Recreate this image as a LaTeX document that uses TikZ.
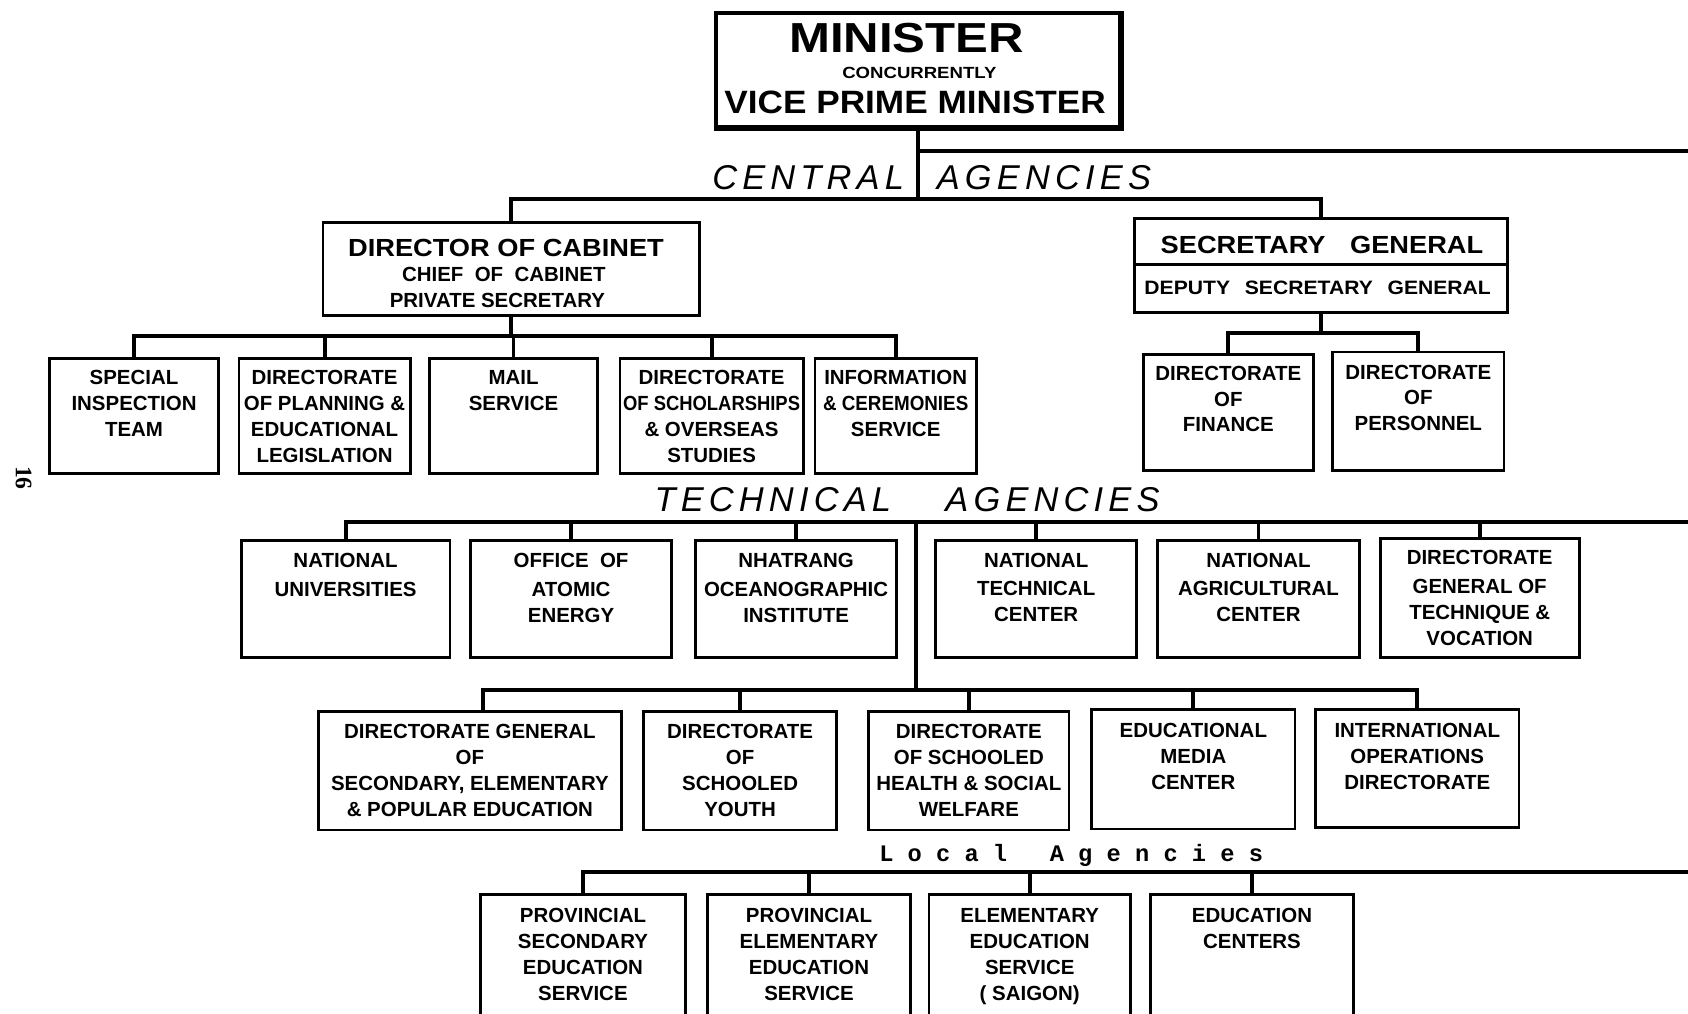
\documentclass[tikz,border=0pt]{standalone}
\usepackage{fontspec}
\usepackage{graphicx}
\setmainfont{Liberation Sans}
\newfontfamily\headfont{Liberation Sans}[LetterSpace=15]
\newfontfamily\locfont{Liberation Mono}
\newfontfamily\pgfont{Liberation Serif}
\newcommand\bx{\fontsize{19}{24}\selectfont\bfseries}
\newcommand\sx[2]{\scalebox{#1}[1]{#2}}
\tikzset{
  box/.style={draw, line width=2.6pt, rectangle, inner sep=0pt},
  lbl/.style={anchor=north, inner sep=0pt, align=center, font=\bx},
  conn/.style={line width=3.6pt, line join=miter},
  head/.style={inner sep=0pt, font=\headfont\itshape\fontsize{32}{32}\selectfont},
  big/.style={inner sep=0pt, font=\bfseries},
}
% name, x1, y1, x2, y2, text offset, text
\newcommand\obox[7]{%
  \node[box, minimum width={#4-#2}, minimum height={#5-#3}] (#1) at ({(#2+#4)/2},{(#3+#5)/2}) {};
  \node[lbl] (#1-t) at ([yshift=-#6pt]#1.north) {#7};}
\begin{document}
\begin{tikzpicture}[x=1pt,y=-1pt]
\useasboundingbox (0,0) rectangle (1568,941);
\clip (0,0) rectangle (1568,941);

% ---------- Minister ----------
\node[box, line width=3pt, minimum width=375, minimum height=106] (min) at (852.5,65) {};
\draw[line width=5pt, line join=miter] (min.north east) -- (min.south east) -- (min.south west);
\node[big, font=\bfseries\fontsize{39}{39}\selectfont] (min-a) at (842,35) {\sx{1.17}{MINISTER}};
\node[big, font=\bfseries\fontsize{15}{15}\selectfont] (min-b) at (854,68) {\sx{1.15}{CONCURRENTLY}};
\node[big, font=\bfseries\fontsize{30}{30}\selectfont] (min-c) at (850,95) {\sx{1.09}{VICE PRIME MINISTER}};

% ---------- Central agencies ----------
\node[head, anchor=east] (cen-a) at (840,165) {CENTRAL};
\node[head, anchor=west] (cen-b) at (870,165) {AGENCIES};

\node[box, minimum width=350, minimum height=86] (dcab) at (475,250) {};
\node[big, font=\bfseries\fontsize{23}{23}\selectfont] (dcab-a) at (470,230) {\sx{1.1}{DIRECTOR OF CABINET}};
\node[big, font=\bx] (dcab-b) at (468,255) {CHIEF\ \ OF\ \ CABINET};
\node[big, font=\bx] (dcab-c) at (462,279) {PRIVATE\ SECRETARY};

\node[box, minimum width=346, minimum height=43] (sg) at (1227,224.5) {};
\node[box, minimum width=346, minimum height=44] (sgd) at (1227,268) {};
\node[big, font=\bfseries\fontsize{23}{23}\selectfont] (sg-a) at (1228,228) {\sx{1.1}{SECRETARY\hspace{0.9em}GENERAL}};
\node[big, font=\bfseries\fontsize{18}{18}\selectfont] (sgd-a) at (1224,267) {\sx{1.09}{DEPUTY\hspace{0.7em}SECRETARY\hspace{0.7em}GENERAL}};

\obox{sit}{46}{333}{203}{440}{12}{SPECIAL\\INSPECTION\\TEAM}
\obox{dpl}{222}{333}{381}{440}{12}{DIRECTORATE\\OF PLANNING \&\\EDUCATIONAL\\LEGISLATION}
\obox{mail}{399}{333}{555}{440}{12}{MAIL\\SERVICE}
\obox{dsch}{576}{333}{746}{440}{12}{DIRECTORATE\\\sx{0.9}{OF SCHOLARSHIPS}\\\& OVERSEAS\\STUDIES}
\obox{info}{757}{333}{907}{440}{12}{INFORMATION\\\sx{0.92}{\& CEREMONIES}\\SERVICE}

\obox{fin}{1062}{329}{1220}{437}{12}{DIRECTORATE\\OF\\FINANCE}
\obox{pers}{1238}{327}{1397}{437}{13}{DIRECTORATE\\OF\\PERSONNEL}

% ---------- Technical agencies ----------
\node[head, anchor=east] (tec-a) at (828,464) {TECHNICAL};
\node[head, anchor=west] (tec-b) at (878,464) {AGENCIES};

\obox{nu}{224}{502}{418}{611}{13}{NATIONAL\\[3pt]UNIVERSITIES}
\obox{oae}{437}{502}{624}{611}{13}{OFFICE\ \ OF\\[3pt]ATOMIC\\ENERGY}
\obox{noi}{646}{502}{833}{611}{13}{NHATRANG\\[3pt]OCEANOGRAPHIC\\INSTITUTE}
\obox{ntc}{869}{502}{1056}{611}{13}{NATIONAL\\[2pt]TECHNICAL\\CENTER}
\obox{nac}{1075}{502}{1263}{611}{13}{NATIONAL\\[2pt]AGRICULTURAL\\CENTER}
\obox{dgt}{1282}{500}{1467}{611}{12}{DIRECTORATE\\[3pt]GENERAL OF\\TECHNIQUE \&\\VOCATION}

\obox{dgs}{296}{661}{577}{771}{13}{DIRECTORATE GENERAL\\OF\\SECONDARY, ELEMENTARY\\\& POPULAR EDUCATION}
\obox{dsy}{598}{661}{777}{771}{13}{DIRECTORATE\\OF\\SCHOOLED\\YOUTH}
\obox{dsh}{807}{661}{993}{771}{13}{DIRECTORATE\\OF SCHOOLED\\HEALTH \& SOCIAL\\WELFARE}
\obox{emc}{1014}{659}{1203}{770}{14}{EDUCATIONAL\\MEDIA\\CENTER}
\obox{iod}{1222}{659}{1411}{769}{14}{INTERNATIONAL\\OPERATIONS\\DIRECTORATE}

% ---------- Local agencies ----------
\node[inner sep=0pt, font=\locfont\bfseries\fontsize{22}{22}\selectfont] (loc) at (995,795) {L~o~c~a~l~~~A~g~e~n~c~i~e~s};

\obox{pse}{446}{831}{637}{965}{14}{PROVINCIAL\\SECONDARY\\EDUCATION\\SERVICE}
\obox{pee}{657}{831}{846}{965}{14}{PROVINCIAL\\ELEMENTARY\\EDUCATION\\SERVICE}
\obox{ees}{863}{831}{1050}{965}{14}{ELEMENTARY\\EDUCATION\\SERVICE\\( SAIGON)}
\obox{ec}{1069}{831}{1257}{965}{14}{EDUCATION\\CENTERS}

% ---------- page number ----------
\node[inner sep=0pt, rotate=-90, font=\pgfont\bfseries\fontsize{22}{22}\selectfont] (pg) at (22,444) {16};

% ---------- connectors ----------
\coordinate (c1) at (851,185);
\coordinate (r1) at (1568,140);
\draw[conn] (min.south) -- (min.south |- c1);
\draw[conn] (min.south |- r1) -- (r1);
\draw[conn] (dcab.north) |- (c1) -| (sg.north);

\coordinate (c2) at (477,312);
\draw[conn] (dcab.south) -- (dcab.south |- c2);
\draw[conn] (sit.north) |- (c2) -| (info.north);
\foreach \n in {dpl,mail,dsch} \draw[conn] (\n.north) -- (\n.north |- c2);

\coordinate (c3) at (1229,309);
\draw[conn] (sgd.south) -- (sgd.south |- c3);
\draw[conn] (fin.north) |- (c3) -| (pers.north);

\coordinate (r2) at (1568,485);
\draw[conn] (nu.north) |- (r2);
\foreach \n in {oae,noi,ntc,nac,dgt} \draw[conn] (\n.north) -- (\n.north |- r2);
\coordinate (t1) at (851,485);
\coordinate (t2) at (851,641);
\draw[conn] (t1) -- (t2);
\draw[conn] ([xshift=12pt]dgs.north) |- (t2) -| (iod.north);
\foreach \n in {dsy,dsh,emc} \draw[conn] (\n.north) -- (\n.north |- t2);

\coordinate (r3) at (1568,810);
\draw[conn] (pse.north) |- (r3);
\foreach \n in {pee,ees,ec} \draw[conn] (\n.north) -- (\n.north |- r3);
\end{tikzpicture}
\end{document}
